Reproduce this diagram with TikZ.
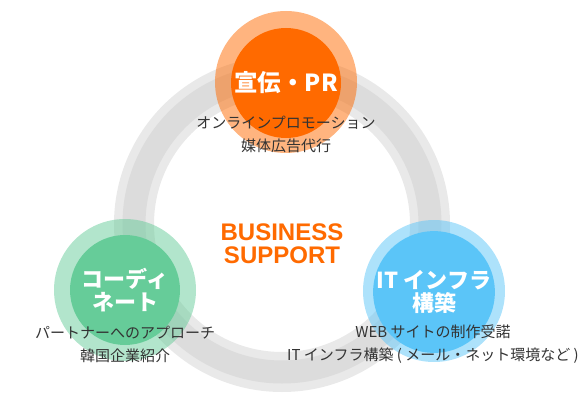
\documentclass[tikz,border=0pt]{standalone}
\usepackage{fontspec}
\usepackage{xcolor}
\newfontfamily\jpfont{Noto Sans CJK JP}
\newfontfamily\bizfont{Liberation Sans}

\definecolor{prorange}{HTML}{FF6A00}
\definecolor{coordgreen}{HTML}{66CC99}
\definecolor{itblue}{HTML}{5BC5F8}
\definecolor{ringlight}{HTML}{E9E9E9}
\definecolor{ringdark}{HTML}{DCDCDC}
\definecolor{textgray}{HTML}{333333}

\tikzset{
  halo/.style={circle, minimum size=142pt, inner sep=0pt, fill opacity=0.5},
  core/.style={circle, minimum size=110pt, inner sep=0pt, text=white, align=center,
    font=\jpfont\bfseries\fontsize{22}{23}\selectfont},
  subtext/.style={align=center, text=textgray, font=\jpfont\fontsize{15}{23}\selectfont},
  bizlabel/.style={align=center, text=prorange, font=\bizfont\bfseries\fontsize{24}{23}\selectfont}
}

\begin{document}
\begin{tikzpicture}[x=1pt, y=-1pt]
  \useasboundingbox (0,0) rectangle (584,404);
  % ring
  \coordinate (hub) at (282,224);
  \draw[ringlight, line width=40pt] (hub) circle[radius=148pt];
  \draw[ringdark, line width=23pt] (hub) circle[radius=148pt];
  % circles
  \node[halo, fill=prorange] (prhalo) at (286,82) {};
  \node[halo, fill=coordgreen] (coordhalo) at (125,290) {};
  \node[halo, fill=itblue] (ithalo) at (434,291) {};
  \node[core, fill=prorange, font=\jpfont\bfseries\fontsize{23.5}{23}\selectfont] (pr) at (286,83) {宣伝・PR};
  \node[core, fill=coordgreen] (coord) at (125,290) {コーディ\\ネート};
  \node[core, fill=itblue] (it) at (434,292) {IT インフラ\\構築};
  % labels
  \node[bizlabel] (biz) at (282,244) {BUSINESS\\SUPPORT};
  \node[subtext] (prnote) at (286,134) {オンラインプロモーション\\媒体広告代行};
  \node[subtext] (coordnote) at (125,344) {パートナーへのアプローチ\\韓国企業紹介};
  \node[subtext] (itnote) at (433,344) {WEB サイトの制作受諾\\IT インフラ構築 ( メール・ネット環境など )};
\end{tikzpicture}
\end{document}
